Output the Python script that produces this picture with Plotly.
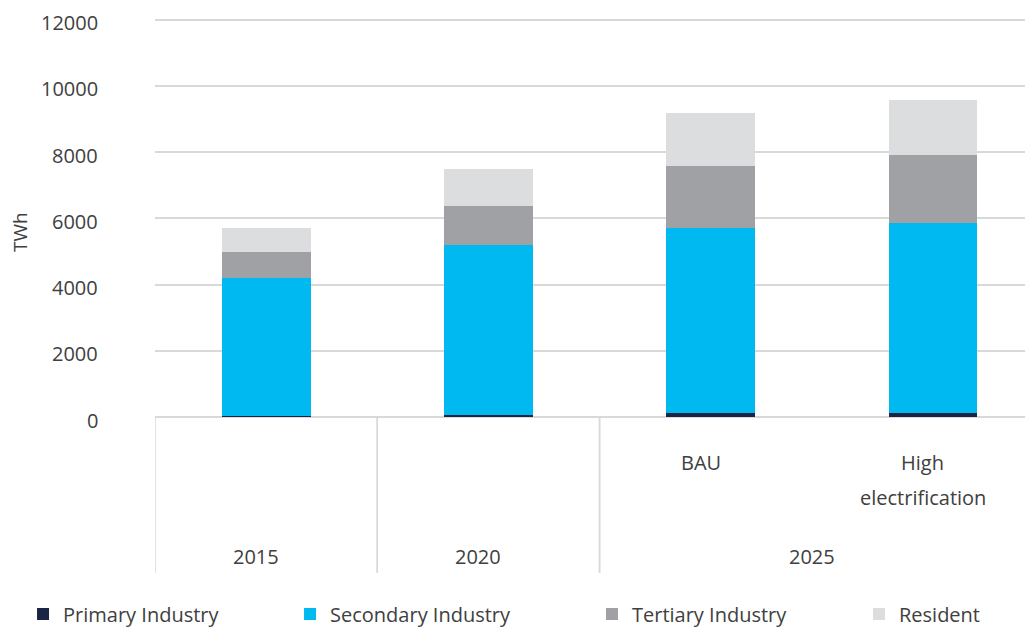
import plotly.graph_objects as go

# Electricity demand by sector, TWh
years = ["2015", "2020", "2025", "2025"]
scenarios = ["", "", "BAU", "High electrification"]
scenario_lines = [[], [], ["BAU"], ["High", "electrification"]]

primary = [40, 60, 110, 110]
secondary = [4160, 5120, 5600, 5750]
tertiary = [770, 1200, 1860, 2040]
resident = [740, 1110, 1610, 1680]

y_ticks = [0, 2000, 4000, 6000, 8000, 10000, 12000]

keys = [f"{y} {s}".strip() for y, s in zip(years, scenarios)]

series = [
    ("Primary Industry", primary, "#1c2445"),
    ("Secondary Industry", secondary, "#00b9f1"),
    ("Tertiary Industry", tertiary, "#a0a1a5"),
    ("Resident", resident, "#dcdddf"),
]

font_col = "#404040"
grid_col = "#d9d9d9"
FS = 20
lab_font = dict(family="Open Sans", size=FS, color=font_col)

# the page body adds an 8px offset, so the figure is a bit smaller than the window
W, H = 1025, 619
B = 210          # bottom margin
TOP = 12200      # a little headroom above the last gridline
PH = round(397 * TOP / 12000)   # plot height in px

fig = go.Figure()
legend_x = [-0.1503, 0.1538, 0.4977, 0.8018]
legends = {}
leg_y = -197 / PH
for k, ((name, vals, col), lx) in enumerate(zip(series, legend_x)):
    lname = "legend" if k == 0 else f"legend{k + 1}"
    fig.add_trace(go.Bar(x=keys, y=vals, name=name, marker_color=col,
                         marker_line_width=0, legend=lname))
    legends[lname] = dict(orientation="h", x=lx, xanchor="left", y=leg_y,
                          yanchor="middle", font=lab_font, bgcolor="rgba(0,0,0,0)")

annotations = []

# y tick labels sit a few px below their gridlines, as in the original
for v in y_ticks:
    annotations.append(dict(x=0, y=v, xref="paper", yref="y", text=str(v),
                            showarrow=False, xanchor="right", yanchor="middle",
                            xshift=-55, yshift=-3, font=lab_font))

# category labels under the axis (offsets in px below the axis)
for i, lines in enumerate(scenario_lines):
    for j, txt in enumerate(lines):
        annotations.append(dict(x=i, y=-(45 + 35 * j) / PH, xref="x", yref="paper",
                                text=txt, showarrow=False, xshift=-10,
                                font=lab_font, xanchor="center", yanchor="middle"))

groups = []
for i, y in enumerate(years):
    if groups and groups[-1][0] == y:
        groups[-1][2] = i
    else:
        groups.append([y, i, i])
for y, a, b in groups:
    annotations.append(dict(x=(a + b) / 2, y=-139 / PH, xref="x", yref="paper",
                            text=y, showarrow=False, xshift=-10,
                            font=lab_font, xanchor="center", yanchor="middle"))

annotations.append(dict(x=-0.1538, y=185 / PH, xref="paper", yref="paper", text="TWh",
                        textangle=-90, showarrow=False, xanchor="center",
                        yanchor="middle",
                        font=dict(family="Open Sans", size=19, color=font_col)))

# group dividers
shapes = []
for y, a, b in groups:
    for edge in (a - 0.5, b + 0.5):
        shapes.append(dict(type="line", xref="x", yref="paper", x0=edge, x1=edge,
                           y0=0, y1=-156 / PH, line=dict(color=grid_col, width=1.5)))

fig.update_layout(
    barmode="stack",
    bargap=0.6,
    width=W, height=H,
    margin=dict(l=147, r=0, t=H - B - PH, b=B, autoexpand=False),
    plot_bgcolor="white", paper_bgcolor="white",
    font=dict(family="Open Sans", size=FS, color=font_col),
    showlegend=True,
    annotations=annotations,
    shapes=shapes,
    **legends,
)
fig.update_xaxes(showticklabels=False, range=[-0.5, 3.45], showgrid=False,
                 showline=False, zeroline=False, automargin=False)
fig.update_yaxes(range=[0, TOP], tickvals=y_ticks, showticklabels=False, showgrid=True,
                 gridcolor=grid_col, gridwidth=1.5, zeroline=True,
                 zerolinecolor=grid_col, zerolinewidth=1.5, automargin=False)

fig.write_html("out.html")
